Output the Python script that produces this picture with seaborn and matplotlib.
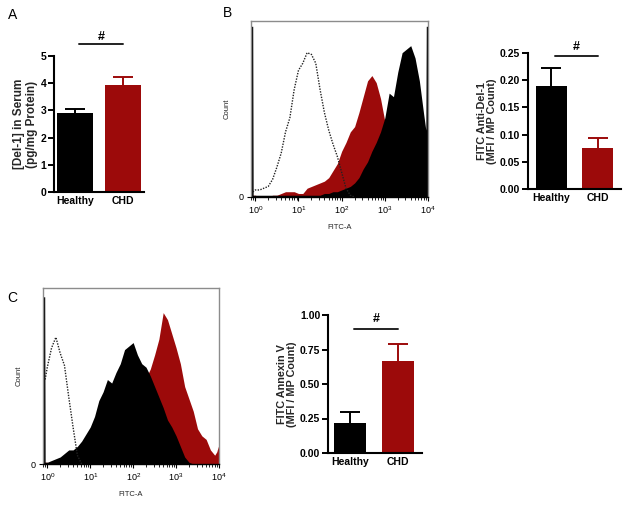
import matplotlib

matplotlib.use('Agg')
import matplotlib.pyplot as plt
import pandas as pd
import seaborn as sns

RED = '#9c0a0a'
INK = '#000000'
FRAME = '#8c8c8c'
NaN = float('nan')

GROUPS = ['Healthy', 'CHD']

# bar panels: mean and upper SEM
SERUM_MEAN = [2.90, 3.93]
SERUM_SEM = [0.15, 0.28]
ANTIDEL_MEAN = [0.189, 0.076]
ANTIDEL_SEM = [0.034, 0.018]
ANNEXIN_MEAN = [0.215, 0.669]
ANNEXIN_SEM = [0.080, 0.121]

# flow histograms: log10 FITC channel and counts (% of panel height)
LOG_FITC = [-0.1, -0.06, -0.05, 0.0, 0.1, 0.2, 0.3, 0.4, 0.5, 0.6, 0.7, 0.8,
            0.9, 1.0, 1.1, 1.2, 1.3, 1.4, 1.5, 1.6, 1.7, 1.8, 1.9, 2.0, 2.1,
            2.2, 2.3, 2.4, 2.5, 2.6, 2.7, 2.8, 2.9, 3.0, 3.1, 3.2, 3.3, 3.4,
            3.5, 3.6, 3.7, 3.8, 3.9, 3.95, 3.96, 4.0]

B_ISOTYPE = [NaN, 3, 3, 4, 4, 5, 6, 10, 17, 25, 37, 45,
             61, 72, 76, 82, 81, 76, 61, 48, 38, 30, 23, 14, 5,
             1, 0, NaN, NaN, NaN, NaN, NaN, NaN, NaN, NaN, NaN, NaN, NaN,
             NaN, NaN, NaN, NaN, NaN, NaN, NaN, NaN]
B_CHD = [1, 1, 1, 1, 0, 0, 0, 1, 1, 2, 3, 3,
         3, 2, 2, 5, 6, 7, 8, 9, 11, 15, 19, 26, 31,
         37, 40, 48, 57, 66, 69, 65, 56, 43, 30, 20, 12, 7,
         4, 2, 1, 0, 0, 0, 0, 0]
B_HEALTHY = [97, 97, 1, 1, 1, 1, 1, 1, 1, 1, 1, 1,
             1, 1, 1, 1, 1, 1, 1, 2, 2, 3, 3, 4, 5,
             6, 8, 11, 16, 20, 26, 31, 37, 45, 59, 57, 71, 82,
             84, 86, 79, 66, 47, 38, 97, 97]

C_ISOTYPE = [NaN, NaN, 48, 55, 66, 72, 63, 56, 38, 21, 5, 0,
             NaN, NaN, NaN, NaN, NaN, NaN, NaN, NaN, NaN, NaN, NaN, NaN, NaN,
             NaN, NaN, NaN, NaN, NaN, NaN, NaN, NaN, NaN, NaN, NaN, NaN, NaN,
             NaN, NaN, NaN, NaN, NaN, NaN, NaN, NaN]
C_CHD = [1, 1, 1, 1, 0, 0, 0, 0, 1, 1, 1, 1,
         1, 1, 2, 3, 4, 6, 8, 12, 16, 21, 27, 33, 39,
         44, 49, 54, 62, 71, 86, 82, 74, 66, 57, 44, 37, 30,
         20, 16, 14, 8, 5, 7, 8, 11]
C_HEALTHY = [95, 95, 1, 1, 2, 3, 4, 6, 8, 8, 10, 13,
             17, 21, 27, 36, 41, 48, 46, 52, 57, 65, 67, 69, 62,
             57, 55, 50, 44, 38, 32, 25, 21, 16, 10, 4, 1, 0,
             0, 0, 0, 0, 0, 0, 0, 0]


def style() -> None:
    sns.set_style('ticks')
    plt.rcParams.update(
        {
            'font.family': ['Liberation Sans', 'DejaVu Sans'],
            'mathtext.default': 'regular',
            'axes.edgecolor': INK,
            'text.color': INK,
            'xtick.color': INK,
            'ytick.color': INK,
            'figure.facecolor': 'white',
            'savefig.facecolor': 'white',
        }
    )


def box(fig, left, top, right, bottom):
    return fig.add_axes([left / 629, 1 - bottom / 505, (right - left) / 629, (bottom - top) / 505])


def bar_panel(ax, means, sems, ylim, ticks, fmt, ylabel, width, bracket_y, hash_y, ylab_size):
    df = pd.DataFrame({'group': GROUPS, 'value': means})
    sns.barplot(data=df, x='group', y='value', hue='group', palette=[INK, RED],
                width=width, ax=ax, legend=False, linewidth=0, saturation=1, zorder=2)
    # symmetric bars drawn underneath, so only the upper half shows
    for i, (m, s, c) in enumerate(zip(means, sems, [INK, RED])):
        ax.errorbar(i, m, yerr=s, fmt='none', ecolor=c, elinewidth=1.4,
                    capsize=7, capthick=1.4, zorder=1)
    ax.set_ylim(*ylim)
    ax.set_yticks(ticks)
    ax.set_yticklabels([fmt.format(t) for t in ticks], fontsize=7.5, fontweight='bold')
    ax.set_xticks([0, 1])
    ax.set_xticklabels(GROUPS, fontsize=7.5, fontweight='bold')
    ax.tick_params(axis='x', length=0, pad=3)
    ax.tick_params(axis='y', length=4, width=1.4, pad=1.5)
    ax.set_xlabel('')
    ax.set_ylabel(ylabel, fontsize=ylab_size, fontweight='bold', labelpad=2, linespacing=1.05)
    for side in ('left', 'bottom'):
        ax.spines[side].set_linewidth(1.5)
    sns.despine(ax=ax)
    tr = ax.get_xaxis_transform()
    ax.plot([0.08, 1.0], [bracket_y, bracket_y], color='#222222', lw=1.4,
            transform=tr, clip_on=False)
    ax.text(0.54, hash_y, '#', transform=tr, ha='center', va='center',
            fontsize=9, fontweight='bold')


def hist_panel(ax, healthy, chd, isotype):
    x = [10 ** v for v in LOG_FITC]
    ax.fill_between(x, 0, chd, color=RED, lw=0, zorder=1)
    ax.fill_between(x, 0, healthy, color=INK, lw=0, zorder=2)
    sns.lineplot(x=x, y=isotype, ax=ax, color='#222222', lw=1.0,
                 linestyle=(0, (1, 1)), estimator=None, sort=False, zorder=3)
    ax.set_xscale('log')
    ax.set_xlim(10 ** -0.1, 10 ** 4)
    ax.set_ylim(0, 100)
    ax.set_yticks([0])
    ax.set_xticks([1, 10, 100, 1000, 10000])
    ax.tick_params(axis='both', which='major', labelsize=6.5, length=3, width=0.8, pad=2)
    ax.tick_params(axis='x', which='minor', length=1.8, width=0.6)
    ax.set_ylabel('Count', fontsize=5.5, labelpad=6)
    ax.set_xlabel('FITC-A', fontsize=5.5, labelpad=6)
    for side in ('top', 'right', 'left'):
        ax.spines[side].set_color(FRAME)
        ax.spines[side].set_linewidth(1.0)
    ax.spines['bottom'].set_linewidth(1.0)


def main() -> None:
    style()
    fig = plt.figure(figsize=(6.29, 5.05), dpi=100)

    ax_a = box(fig, 54, 56, 144, 192)
    bar_panel(ax_a, SERUM_MEAN, SERUM_SEM, (0, 5), [0, 1, 2, 3, 4, 5], '{:d}',
              '[Del-1] in Serum\n(pg/mg Protein)', 0.76, 1.088, 1.14, 8.5)
    ax_a.set_xlim(-0.45, 1.45)

    ax_bh = box(fig, 251, 21, 428, 197)
    hist_panel(ax_bh, B_HEALTHY, B_CHD, B_ISOTYPE)

    ax_bb = box(fig, 528, 53, 621, 189)
    bar_panel(ax_bb, ANTIDEL_MEAN, ANTIDEL_SEM, (0, 0.25), [0, 0.05, 0.10, 0.15, 0.20, 0.25],
              '{:.2f}', 'FITC Anti-Del-1\n(MFI / MP Count)', 0.67, 0.978, 1.044, 7.8)
    ax_bb.set_xlim(-0.51, 1.51)

    ax_ch = box(fig, 43, 288, 219, 464)
    hist_panel(ax_ch, C_HEALTHY, C_CHD, C_ISOTYPE)

    ax_cb = box(fig, 328, 315, 422, 453)
    bar_panel(ax_cb, ANNEXIN_MEAN, ANNEXIN_SEM, (0, 1.0), [0, 0.25, 0.50, 0.75, 1.00],
              '{:.2f}', 'FITC Annexin V\n(MFI / MP Count)', 0.67, 0.899, 0.971, 7.8)
    ax_cb.set_xlim(-0.47, 1.5)

    for letter, (px, py) in {'A': (8, 15), 'B': (223, 13), 'C': (7, 298)}.items():
        fig.text(px / 629, 1 - py / 505, letter, fontsize=10, ha='left', va='center')

    fig.savefig('out.png', dpi=100)
    plt.close(fig)


if __name__ == '__main__':
    main()
